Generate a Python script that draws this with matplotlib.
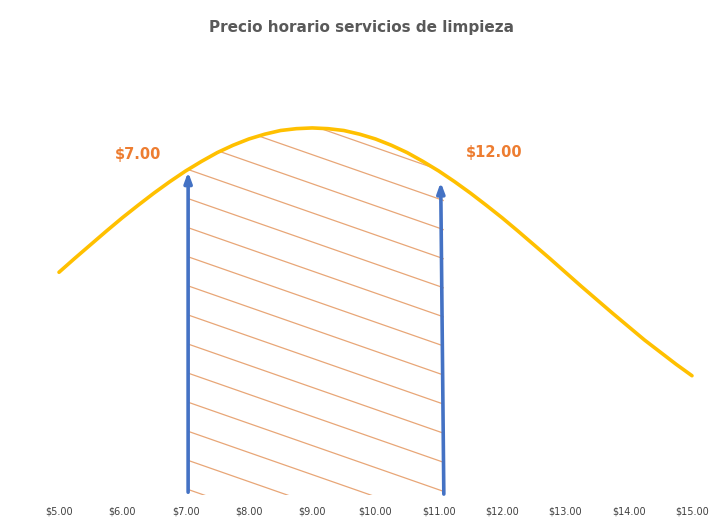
import matplotlib.pyplot as plt
import matplotlib.patches as mpatches
import numpy as np

# precio por hora ($) y densidad
precio = [5.0, 5.25, 5.5, 5.75, 6.0, 6.25, 6.5, 6.75, 7.0, 7.25, 7.5, 7.75, 8.0, 8.25,
          8.5, 8.75, 9.0, 9.25, 9.5, 9.75, 10.0, 10.25, 10.5, 10.75, 11.0, 11.25, 11.5,
          11.75, 12.0, 12.25, 12.5, 12.75, 13.0, 13.25, 13.5, 13.75, 14.0, 14.25, 14.5,
          14.75, 15.0]
densidad = [0.0605, 0.0643, 0.0680, 0.0717, 0.0753, 0.0787, 0.0820, 0.0851, 0.0880, 0.0906,
            0.0930, 0.0950, 0.0967, 0.0980, 0.0990, 0.0995, 0.0997, 0.0995, 0.0990, 0.0980,
            0.0967, 0.0950, 0.0930, 0.0906, 0.0880, 0.0851, 0.0820, 0.0787, 0.0753, 0.0717,
            0.0680, 0.0643, 0.0605, 0.0567, 0.0530, 0.0493, 0.0457, 0.0421, 0.0388, 0.0355,
            0.0324]
ticks = [5, 6, 7, 8, 9, 10, 11, 12, 13, 14, 15]
tick_labels = ['$5.00', '$6.00', '$7.00', '$8.00', '$9.00', '$10.00',
               '$11.00', '$12.00', '$13.00', '$14.00', '$15.00']
rango = [7.04, 11.08]
etiquetas = ['$7.00', '$12.00']

fig = plt.figure(figsize=(7.23, 5.27), dpi=100)
ax = fig.add_axes([0.0816, 0.0607, 0.8755, 0.7685])
ax.set_xlim(5, 15)
ax.set_ylim(0, 0.110)

# zona rayada entre los dos precios (bajo la curva)
px = np.array(precio)
py = np.array(densidad)
dentro = (px > rango[0]) & (px < rango[1])
y_ini = np.interp(rango[0], precio, densidad)
y_fin = np.interp(rango[1], precio, densidad)
poly_x = np.concatenate([[rango[0], rango[0]], px[dentro], [rango[1], rango[1]]])
poly_y = np.concatenate([[0, y_ini], py[dentro], [y_fin, 0]])
zona = mpatches.Polygon(np.column_stack([poly_x, poly_y]), closed=True,
                        facecolor='none', edgecolor='none')
ax.add_patch(zona)
pend = -0.0060
for b in np.arange(-0.125, 0.04, 0.0079):
    ln, = ax.plot([rango[0], rango[1]], [b + 0.0870, b + 0.0870 + pend * (rango[1] - rango[0])],
                  color='#E8A677', lw=0.9, zorder=1)
    ln.set_clip_path(zona)

ax.plot(precio, densidad, color='#FFC000', lw=2.6, zorder=3, clip_on=False,
        solid_joinstyle='round', solid_capstyle='round')

# flechas
flecha = dict(arrowstyle='-|>,head_width=0.22,head_length=0.6', color='#4472C4', lw=2.6)
ax.annotate('', xy=(rango[0], 0.0885), xytext=(rango[0], 0),
            arrowprops=flecha, zorder=4, annotation_clip=False)
ax.annotate('', xy=(rango[1] - 0.05, 0.0857), xytext=(rango[1], -0.0005),
            arrowprops=flecha, zorder=4, annotation_clip=False)

ax.text(6.25, 0.0924, etiquetas[0], color='#ED7D31', fontsize=10.5, fontweight='bold',
        ha='center', va='center')
ax.text(11.87, 0.0929, etiquetas[1], color='#ED7D31', fontsize=10.5, fontweight='bold',
        ha='center', va='center')

ax.set_xticks(ticks)
ax.set_xticklabels(tick_labels, fontsize=7, color='#404040')
ax.tick_params(axis='x', length=0, pad=8)
ax.set_yticks([])
for s in ax.spines.values():
    s.set_visible(False)

fig.text(0.5, 0.947, 'Precio horario servicios de limpieza', ha='center', va='center',
         fontsize=11, fontweight='bold', color='#595959')

fig.savefig('out.png', dpi=100)
